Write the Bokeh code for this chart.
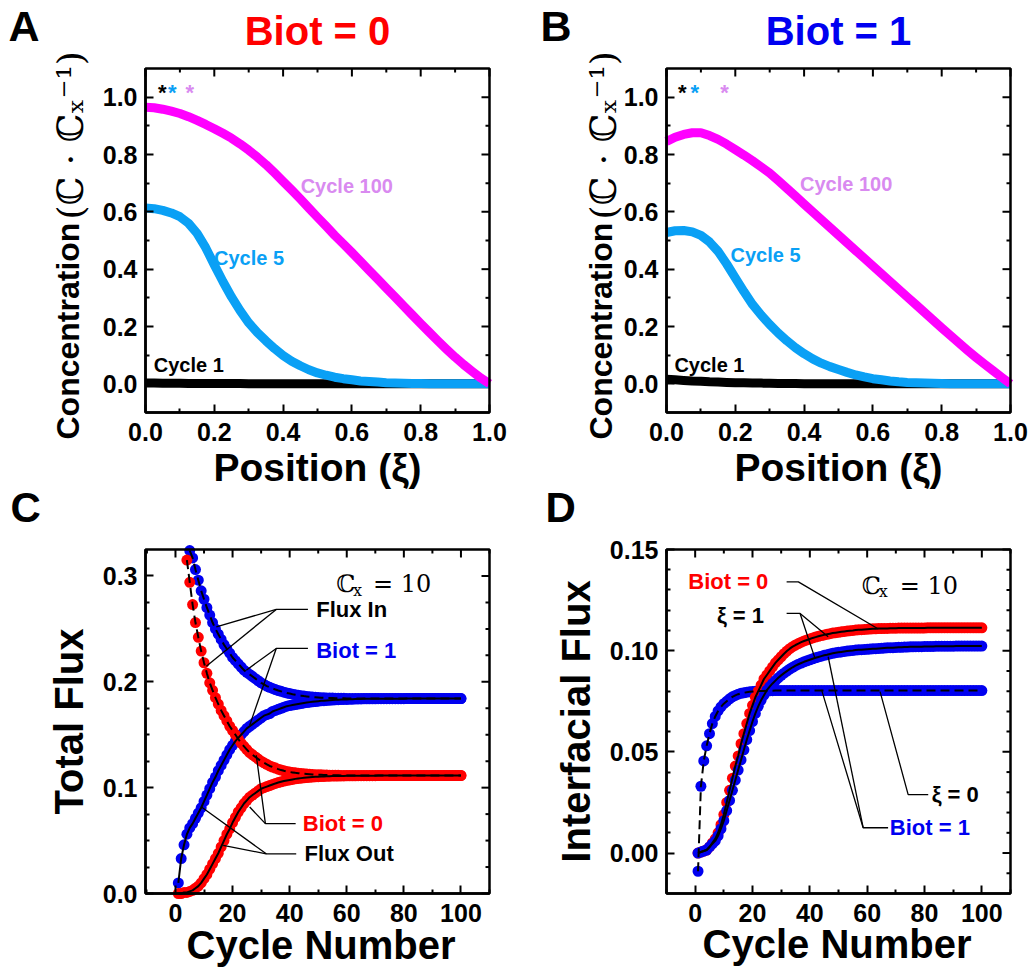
import math
from bokeh.plotting import figure
from bokeh.models import Range1d, LinearAxis, FixedTicker, PrintfTickFormatter, Label
from bokeh.layouts import gridplot
from bokeh.embed import file_html
from bokeh.resources import INLINE

# ---------------- data: panels A and B (concentration profiles) ----------------
xi = [0.000, 0.025, 0.050, 0.075, 0.100, 0.125, 0.150, 0.175, 0.200, 0.225,
      0.250, 0.275, 0.300, 0.325, 0.350, 0.375, 0.400, 0.425, 0.450, 0.475,
      0.500, 0.525, 0.550, 0.575, 0.600, 0.625, 0.650, 0.675, 0.700, 0.725,
      0.750, 0.775, 0.800, 0.825, 0.850, 0.875, 0.900, 0.925, 0.950, 0.975, 1.000]

a_cycle1 = [0.003, 0.003, 0.002, 0.002, 0.002, 0.001, 0.001, 0.001, 0.001, 0.001,
            0.001, 0.001, 0.000, 0.000, 0.000, 0.000, 0.000, 0.000, 0.000, 0.000,
            0.000, 0.000, 0.000, 0.000, 0.000, 0.000, 0.000, 0.000, 0.000, 0.000,
            0.000, 0.000, 0.000, 0.000, 0.000, 0.000, 0.000, 0.000, 0.000, 0.000, 0.000]
a_cycle5 = [0.613, 0.611, 0.605, 0.596, 0.583, 0.560, 0.525, 0.475, 0.415, 0.357,
            0.303, 0.255, 0.213, 0.179, 0.150, 0.123, 0.099, 0.079, 0.063, 0.049,
            0.038, 0.030, 0.023, 0.018, 0.014, 0.010, 0.008, 0.006, 0.004, 0.003,
            0.002, 0.0015, 0.001, 0.0005, 0.000, 0.000, 0.000, 0.000, 0.000, 0.000, 0.000]
a_cycle100 = [0.965, 0.963, 0.958, 0.951, 0.943, 0.932, 0.919, 0.905, 0.890, 0.874,
              0.857, 0.837, 0.815, 0.791, 0.765, 0.736, 0.706, 0.676, 0.645, 0.613,
              0.581, 0.550, 0.518, 0.488, 0.458, 0.427, 0.396, 0.365, 0.334, 0.303,
              0.272, 0.241, 0.210, 0.180, 0.150, 0.121, 0.093, 0.067, 0.043, 0.020, 0.000]

b_cycle1 = [0.016, 0.014, 0.012, 0.010, 0.009, 0.007, 0.006, 0.005, 0.004, 0.0035,
            0.003, 0.0025, 0.002, 0.0015, 0.001, 0.001, 0.0005, 0.000, 0.000, 0.000,
            0.000, 0.000, 0.000, 0.000, 0.000, 0.000, 0.000, 0.000, 0.000, 0.000,
            0.000, 0.000, 0.000, 0.000, 0.000, 0.000, 0.000, 0.000, 0.000, 0.000, 0.000]
b_cycle5 = [0.528, 0.534, 0.535, 0.530, 0.518, 0.495, 0.462, 0.418, 0.370, 0.322,
            0.277, 0.240, 0.207, 0.177, 0.150, 0.126, 0.105, 0.087, 0.072, 0.060,
            0.050, 0.040, 0.031, 0.024, 0.018, 0.014, 0.010, 0.007, 0.005, 0.004,
            0.003, 0.002, 0.001, 0.0005, 0.000, 0.000, 0.000, 0.000, 0.000, 0.000, 0.000]
b_cycle100 = [0.845, 0.860, 0.870, 0.876, 0.876, 0.866, 0.853, 0.836, 0.817, 0.798,
              0.778, 0.757, 0.735, 0.709, 0.682, 0.655, 0.627, 0.600, 0.573, 0.546,
              0.519, 0.492, 0.465, 0.438, 0.411, 0.384, 0.357, 0.330, 0.303, 0.276,
              0.249, 0.222, 0.195, 0.169, 0.143, 0.117, 0.092, 0.068, 0.045, 0.022, 0.000]

# ---------------- data: panels C and D (flux vs cycle) ----------------
cycles = list(range(1, 101))

c_in_biot1 = [0.389, 0.372, 0.356, 0.338, 0.324, 0.317, 0.306, 0.296, 0.286, 0.278,
              0.270, 0.263, 0.256, 0.250, 0.245, 0.240, 0.235, 0.231, 0.227, 0.223,
              0.220, 0.217, 0.214, 0.211, 0.209, 0.207, 0.205, 0.203, 0.201, 0.199,
              0.1975, 0.196, 0.1948, 0.1937, 0.1927, 0.1918, 0.191, 0.1902, 0.1895, 0.1889,
              0.1883, 0.1878, 0.1873, 0.1869, 0.1865, 0.1862, 0.1859, 0.1856, 0.1854, 0.1852,
              0.185, 0.1849, 0.1848, 0.1847, 0.1846, 0.1845, 0.1845, 0.1844, 0.1844, 0.1843,
              0.1843, 0.1843, 0.1843, 0.1843, 0.1843, 0.1843, 0.1843, 0.1843, 0.1843, 0.1843,
              0.1843, 0.1843, 0.1843, 0.1843, 0.1843, 0.1843, 0.1843, 0.1843, 0.1843, 0.1843,
              0.1842, 0.1842, 0.1842, 0.1842, 0.1842, 0.1842, 0.1842, 0.1842, 0.1842, 0.1842,
              0.1842, 0.1842, 0.1842, 0.1842, 0.1842, 0.1842, 0.1842, 0.1842, 0.1842, 0.1842]
c_out_biot1 = [0.010, 0.033, 0.046, 0.056, 0.062, 0.066, 0.071, 0.076, 0.081, 0.087,
               0.093, 0.099, 0.105, 0.110, 0.116, 0.121, 0.126, 0.131, 0.136, 0.140,
               0.144, 0.147, 0.150, 0.153, 0.156, 0.158, 0.160, 0.162, 0.164, 0.166,
               0.168, 0.169, 0.170, 0.172, 0.173, 0.174, 0.175, 0.176, 0.177, 0.1775,
               0.178, 0.1785, 0.179, 0.1795, 0.180, 0.1804, 0.1808, 0.1811, 0.1814, 0.1817,
               0.182, 0.1822, 0.1824, 0.1826, 0.1828, 0.183, 0.1831, 0.1832, 0.1833, 0.1834,
               0.1835, 0.1836, 0.1837, 0.1838, 0.1838, 0.1839, 0.1839, 0.184, 0.184, 0.184,
               0.1841, 0.1841, 0.1841, 0.1841, 0.1841, 0.1841, 0.1841, 0.1841, 0.1841, 0.1841,
               0.1842, 0.1842, 0.1842, 0.1842, 0.1842, 0.1842, 0.1842, 0.1842, 0.1842, 0.1842,
               0.1842, 0.1842, 0.1842, 0.1842, 0.1842, 0.1842, 0.1842, 0.1842, 0.1842, 0.1842]
c_in_biot0 = [0.400, 0.370, 0.341, 0.315, 0.294, 0.273, 0.256, 0.242, 0.229, 0.218,
              0.208, 0.199, 0.192, 0.185, 0.179, 0.173, 0.168, 0.163, 0.158, 0.154,
              0.150, 0.146, 0.142, 0.139, 0.136, 0.133, 0.131, 0.129, 0.127, 0.125,
              0.1235, 0.122, 0.1205, 0.1195, 0.1185, 0.1175, 0.1166, 0.1159, 0.1153, 0.1148,
              0.1144, 0.114, 0.1137, 0.1134, 0.1131, 0.1129, 0.1127, 0.1125, 0.1123, 0.1122,
              0.1121, 0.112, 0.1119, 0.1118, 0.1118, 0.1117, 0.1117, 0.1116, 0.1116, 0.1116,
              0.1115, 0.1115, 0.1115, 0.1115, 0.1115, 0.1115, 0.1115, 0.1115, 0.1115, 0.1115,
              0.1115, 0.1115, 0.1115, 0.1115, 0.1115, 0.1115, 0.1115, 0.1115, 0.1115, 0.1115,
              0.1115, 0.1115, 0.1115, 0.1115, 0.1115, 0.1115, 0.1115, 0.1115, 0.1115, 0.1115,
              0.1115, 0.1115, 0.1115, 0.1115, 0.1115, 0.1115, 0.1115, 0.1115, 0.1115, 0.1115]
c_out_biot0 = [0.000, 0.000, 0.001, 0.001, 0.002, 0.003, 0.005, 0.007, 0.010, 0.014,
               0.018, 0.023, 0.028, 0.033, 0.038, 0.044, 0.050, 0.056, 0.061, 0.067,
               0.072, 0.077, 0.081, 0.085, 0.088, 0.091, 0.093, 0.095, 0.097, 0.099,
               0.100, 0.101, 0.102, 0.103, 0.104, 0.1048, 0.1055, 0.1062, 0.1068, 0.1073,
               0.1078, 0.1083, 0.1087, 0.109, 0.1093, 0.1096, 0.1098, 0.110, 0.1102, 0.1104,
               0.1105, 0.1106, 0.1107, 0.1108, 0.1109, 0.111, 0.111, 0.1111, 0.1111, 0.1112,
               0.1112, 0.1112, 0.1112, 0.1113, 0.1113, 0.1113, 0.1113, 0.1113, 0.1113, 0.1113,
               0.1114, 0.1114, 0.1114, 0.1114, 0.1114, 0.1114, 0.1114, 0.1114, 0.1114, 0.1114,
               0.1114, 0.1114, 0.1114, 0.1114, 0.1114, 0.1114, 0.1114, 0.1114, 0.1114, 0.1114,
               0.1114, 0.1114, 0.1114, 0.1114, 0.1114, 0.1114, 0.1114, 0.1114, 0.1114, 0.1114]

d_biot0_xi1 = [0.000, 0.0005, 0.001, 0.0015, 0.003, 0.005, 0.007, 0.010, 0.014, 0.019,
               0.025, 0.031, 0.037, 0.043, 0.048, 0.054, 0.059, 0.064, 0.069, 0.073,
               0.077, 0.080, 0.083, 0.086, 0.088, 0.090, 0.092, 0.094, 0.0955, 0.097,
               0.0985, 0.0998, 0.101, 0.102, 0.1028, 0.1035, 0.1042, 0.1048, 0.1053, 0.1058,
               0.1063, 0.1067, 0.1071, 0.1075, 0.1078, 0.1081, 0.1084, 0.1087, 0.1089, 0.1091,
               0.1093, 0.1095, 0.1097, 0.1099, 0.110, 0.1102, 0.1103, 0.1104, 0.1105, 0.1106,
               0.1107, 0.1108, 0.1108, 0.1109, 0.1109, 0.111, 0.111, 0.1111, 0.1111, 0.1111,
               0.1112, 0.1112, 0.1112, 0.1112, 0.1112, 0.1112, 0.1112, 0.1112, 0.1112, 0.1112,
               0.1113, 0.1113, 0.1113, 0.1113, 0.1113, 0.1113, 0.1113, 0.1113, 0.1113, 0.1113,
               0.1113, 0.1113, 0.1113, 0.1113, 0.1113, 0.1113, 0.1113, 0.1113, 0.1113, 0.1113]
d_biot1_xi1 = [0.000, 0.0005, 0.001, 0.0015, 0.003, 0.0045, 0.006, 0.0085, 0.012, 0.016,
               0.021, 0.026, 0.031, 0.036, 0.041, 0.046, 0.051, 0.056, 0.0605, 0.065,
               0.069, 0.0725, 0.0755, 0.078, 0.0805, 0.0822, 0.0838, 0.0852, 0.0866, 0.0878,
               0.0889, 0.0899, 0.0909, 0.0918, 0.0926, 0.0933, 0.0939, 0.0945, 0.095, 0.0955,
               0.096, 0.0965, 0.0969, 0.0973, 0.0977, 0.098, 0.0984, 0.0987, 0.099, 0.0992,
               0.0994, 0.0996, 0.0998, 0.100, 0.1001, 0.1003, 0.1004, 0.1005, 0.1006, 0.1007,
               0.1008, 0.1009, 0.101, 0.1011, 0.1012, 0.1013, 0.1014, 0.1015, 0.1015, 0.1016,
               0.1017, 0.1017, 0.1018, 0.1018, 0.1019, 0.1019, 0.102, 0.102, 0.102, 0.1021,
               0.1021, 0.1021, 0.1021, 0.1022, 0.1022, 0.1022, 0.1022, 0.1022, 0.1022, 0.1022,
               0.1023, 0.1023, 0.1023, 0.1023, 0.1023, 0.1023, 0.1023, 0.1023, 0.1023, 0.1023]
d_biot1_xi0 = [-0.009, 0.033, 0.0455, 0.053, 0.059, 0.064, 0.0675, 0.0702, 0.0722, 0.0738,
               0.075, 0.0762, 0.0772, 0.0779, 0.0785, 0.0789, 0.0792, 0.0795, 0.0797, 0.0798,
               0.0799, 0.080, 0.0801, 0.0801, 0.0802, 0.0802, 0.0802, 0.0803, 0.0803, 0.0803,
               0.0803, 0.0803, 0.0803, 0.0803, 0.0803, 0.0803, 0.0803, 0.0803, 0.0803, 0.0803,
               0.0803, 0.0803, 0.0803, 0.0803, 0.0803, 0.0803, 0.0803, 0.0803, 0.0803, 0.0803,
               0.0803, 0.0803, 0.0803, 0.0803, 0.0803, 0.0803, 0.0803, 0.0803, 0.0803, 0.0803,
               0.0803, 0.0803, 0.0803, 0.0803, 0.0803, 0.0803, 0.0803, 0.0803, 0.0803, 0.0803,
               0.0803, 0.0803, 0.0803, 0.0803, 0.0803, 0.0803, 0.0803, 0.0803, 0.0803, 0.0803,
               0.0803, 0.0803, 0.0803, 0.0803, 0.0803, 0.0803, 0.0803, 0.0803, 0.0803, 0.0803,
               0.0803, 0.0803, 0.0803, 0.0803, 0.0803, 0.0803, 0.0803, 0.0803, 0.0803, 0.0803]

# annotation leader lines (data coordinates)
c_leaders_x = [[46.4, 35.3, 14.3], [35.3, 10.8],
               [46.4, 35.3, 24.8], [35.3, 26.0],
               [42.1, 31.5, 28.3], [31.5, 26.0],
               [42.3, 31.8, 9.1], [31.8, 16.7]]
c_leaders_y = [[0.2684, 0.2684, 0.252], [0.2684, 0.2148],
               [0.2315, 0.2315, 0.211], [0.2315, 0.159],
               [0.066, 0.066, 0.1306], [0.066, 0.0817],
               [0.0375, 0.0375, 0.0817], [0.0375, 0.0454]]
d_leaders_x = [[31.9, 36.0, 63.9],
               [31.9, 36.6, 46.4], [36.6, 41.8],
               [81.3, 74.3, 64.5],
               [67.3, 58.6, 44.1], [58.6, 46.4]]
d_leaders_y = [[0.134, 0.134, 0.1107],
               [0.1184, 0.1184, 0.1069], [0.1184, 0.0962],
               [0.0289, 0.0289, 0.0798],
               [0.0125, 0.0125, 0.0806], [0.0125, 0.097]]

RED = "#FF0000"
BLUE = "#0000F0"
CYC5 = "#0AA0F5"
CYC100 = "#FF00FF"
CYC100_TXT = "#D98AF0"
SANS = "Liberation Sans"
SERIF = "DejaVu Serif"
MAJ, MIN = 8, 4
TOP_H = 533            # height of the upper figure row
BOT_H = 967 - TOP_H    # height of the lower figure row


def make_axis(ticks, minor, fmt):
    ax = LinearAxis(ticker=FixedTicker(ticks=ticks, minor_ticks=minor),
                    formatter=PrintfTickFormatter(format=fmt))
    ax.axis_line_color = "black"
    ax.axis_line_width = 2.5
    ax.major_tick_in = MAJ
    ax.major_tick_out = 0
    ax.minor_tick_in = MIN
    ax.minor_tick_out = 0
    ax.major_tick_line_width = 2
    ax.minor_tick_line_width = 2
    ax.major_tick_line_color = "black"
    ax.minor_tick_line_color = "black"
    ax.major_label_text_font = SANS
    ax.major_label_text_font_style = "bold"
    ax.major_label_text_color = "black"
    ax.major_label_text_font_size = "25px"
    return ax


def panel(fw, fh, L, R, T, B, box_x, box_y, xt, xm, yt, ym, xf, yf):
    """Figure whose frame fills the canvas; the boxed plot area sits at the given margins."""
    x0, x1 = box_x
    y0, y1 = box_y
    ppx = (fw - L - R) / (x1 - x0)
    ppy = (fh - T - B) / (y1 - y0)
    p = figure(width=fw, height=fh,
               x_range=Range1d(x0 - L / ppx, x1 + R / ppx),
               y_range=Range1d(y0 - B / ppy, y1 + T / ppy),
               output_backend="svg", toolbar_location=None, title=None,
               x_axis_location=None, y_axis_location=None,
               min_border_left=0, min_border_right=0, min_border_top=0, min_border_bottom=0)
    p.grid.visible = False
    p.outline_line_color = None
    p.background_fill_color = "white"
    p.border_fill_color = "white"
    bx = make_axis(xt, xm, xf)
    bx.fixed_location = y0
    bx.bounds = (x0, x1)
    bx.major_label_standoff = 10
    p.add_layout(bx, "below")
    ly = make_axis(yt, ym, yf)
    ly.fixed_location = x0
    ly.bounds = (y0, y1)
    ly.major_label_standoff = 8
    p.add_layout(ly, "left")
    # mirrored inward ticks on top and right
    p.segment(x0=xt, y0=[y1] * len(xt), x1=xt, y1=[y1 - MAJ / ppy] * len(xt),
              line_color="black", line_width=2)
    p.segment(x0=xm, y0=[y1] * len(xm), x1=xm, y1=[y1 - MIN / ppy] * len(xm),
              line_color="black", line_width=2)
    p.segment(x0=[x1] * len(yt), y0=yt, x1=[x1 - MAJ / ppx] * len(yt), y1=yt,
              line_color="black", line_width=2)
    p.segment(x0=[x1] * len(ym), y0=ym, x1=[x1 - MIN / ppx] * len(ym), y1=ym,
              line_color="black", line_width=2)
    return p


def box(p, box_x, box_y):
    p.quad(left=[box_x[0]], right=[box_x[1]], bottom=[box_y[0]], top=[box_y[1]],
           fill_color=None, line_color="black", line_width=2.5)


def put(p, x, y, text, size, color="black", font=SANS, style="bold",
        align="left", baseline="middle", angle=0.0, xo=0, yo=0):
    p.add_layout(Label(x=x, y=y, text=text, text_font=font, text_font_size=f"{size}px",
                       text_font_style=style, text_color=color, text_align=align,
                       text_baseline=baseline, angle=angle, x_offset=xo, y_offset=yo))


def cx10(p, x_c, x_x, x_eq, y):
    put(p, x_c, y, "ℂ", 24, font=SERIF, style="normal", baseline="alphabetic", yo=8)
    put(p, x_x, y, "x", 16, font=SERIF, style="normal", baseline="alphabetic", yo=2)
    put(p, x_eq, y, "= 10", 24, font=SERIF, style="normal", baseline="alphabetic", yo=8)


def inside(xs, ys, top):
    pts = [(a, b) for a, b in zip(xs, ys) if b <= top]
    return [a for a, _ in pts], [b for _, b in pts]


conc_xt = [0.0, 0.2, 0.4, 0.6, 0.8, 1.0]
conc_xm = [0.1, 0.3, 0.5, 0.7, 0.9]
conc_yt = [0.0, 0.2, 0.4, 0.6, 0.8, 1.0]
conc_ym = [0.1, 0.3, 0.5, 0.7, 0.9]


def conc_panel(fw, R, c1, c5, c100, letter, letter_xo, title, title_color,
               ylab_xo, lab100, lab5, lab1, stars, lower_letter, lower_xo):
    bx_, by_ = (0.0, 1.0), (-0.1, 1.1)
    p = panel(fw, TOP_H, 145, R, 68, TOP_H - 68 - 344, bx_, by_,
              conc_xt, conc_xm, conc_yt, conc_ym, "%.1f", "%.1f")
    p.line(xi, c1, line_width=9, line_color="black", line_join="round")
    p.line(xi, c5, line_width=9, line_color=CYC5, line_join="round")
    p.line(xi, c100, line_width=9, line_color=CYC100, line_join="round")
    box(p, bx_, by_)
    put(p, lab100[0], lab100[1], "Cycle 100", 20, color=CYC100_TXT)
    put(p, lab5[0], lab5[1], "Cycle 5", 20, color=CYC5)
    put(p, lab1[0], lab1[1], "Cycle 1", 20, color="black")
    for sx, col in zip(stars, ["black", CYC5, CYC100_TXT]):
        put(p, sx, 1.017, "*", 22, color=col, align="center")
    put(p, 0.0, 1.1, letter, 43, xo=letter_xo, yo=43)
    put(p, 0.5, 1.1, title, 40, color=title_color, align="center", yo=38)
    put(p, 0.0, -0.1, "Concentration", 32, angle=math.pi / 2, xo=ylab_xo, yo=-27)
    put(p, 0.0, -0.1, "(ℂ · ℂₓ⁻¹)", 36, font=SERIF, style="normal",
        angle=math.pi / 2, xo=ylab_xo + 3, yo=193)
    put(p, 0.5, -0.1, "Position (ξ)", 39, align="center", yo=-55)
    # letter of the panel below (sits in the gap between the rows)
    put(p, 0.0, -0.1, lower_letter, 42, xo=lower_xo, yo=-95)
    return p


pa = conc_panel(521, 32, a_cycle1, a_cycle5, a_cycle100, "A", -137, "Biot = 0", RED, -78,
                (0.451, 0.689), (0.199, 0.44), (0.024, 0.065), [0.049, 0.078, 0.129],
                "C", -135)
pb = conc_panel(511, 22, b_cycle1, b_cycle5, b_cycle100, "B", -126, "Biot = 1", BLUE, -66,
                (0.388, 0.697), (0.186, 0.449), (0.023, 0.065), [0.046, 0.082, 0.169],
                "D", -121)

cyc_xt = [0, 20, 40, 60, 80, 100]
cyc_xm = [-10, 10, 30, 50, 70, 90, 110]
BOT_T = 549 - TOP_H

# ---------------- panel C ----------------
C_BX, C_BY = (-10.5, 110), (0.0, 0.325)
pc = panel(521, BOT_H, 145, 32, BOT_T, BOT_H - BOT_T - 344, C_BX, C_BY,
           cyc_xt, cyc_xm, [0.0, 0.1, 0.2, 0.3],
           [0.025, 0.05, 0.075, 0.125, 0.15, 0.175, 0.225, 0.25, 0.275], "%d", "%.1f")
for ys, col in [(c_in_biot1, BLUE), (c_out_biot1, BLUE), (c_in_biot0, RED), (c_out_biot0, RED)]:
    xs_, ys_ = inside(cycles, ys, C_BY[1])
    pc.scatter(xs_, ys_, marker="circle", size=11, fill_color=col, line_color=None)
for ys, dash in [(c_in_biot1, "9 5"), (c_in_biot0, "9 5"), (c_out_biot1, "solid"), (c_out_biot0, "solid")]:
    xs_, ys_ = inside(cycles, ys, C_BY[1])
    pc.line(xs_, ys_, line_color="black", line_width=2, line_dash=dash)
box(pc, C_BX, C_BY)
pc.multi_line(c_leaders_x, c_leaders_y, line_color="black", line_width=1.3)
put(pc, 49.3, 0.2687, "Flux In", 22)
put(pc, 49.3, 0.2299, "Biot = 1", 22, color=BLUE)
put(pc, 44.6, 0.0662, "Biot = 0", 22, color=RED)
put(pc, 45.2, 0.0378, "Flux Out", 22)
cx10(pc, 56.3, 62.2, 69.2, 0.2848)
put(pc, C_BX[0], 0.1625, "Total Flux", 40, angle=math.pi / 2, align="center", xo=-77)
put(pc, 51.0, C_BY[0], "Cycle Number", 40, align="center", yo=-51)

# ---------------- panel D ----------------
D_BX, D_BY = (-10, 110), (-0.02, 0.15)
pd = panel(511, BOT_H, 145, 22, BOT_T, BOT_H - BOT_T - 344, D_BX, D_BY,
           cyc_xt, cyc_xm, [0.0, 0.05, 0.10, 0.15],
           [-0.01, 0.01, 0.02, 0.03, 0.04, 0.06, 0.07, 0.08, 0.09, 0.11, 0.12, 0.13, 0.14],
           "%d", "%.2f")
pd.scatter(cycles, d_biot1_xi0, marker="circle", size=11, fill_color=BLUE, line_color=None)
pd.scatter(cycles, d_biot0_xi1, marker="circle", size=11, fill_color=RED, line_color=None)
pd.scatter(cycles, d_biot1_xi1, marker="circle", size=11, fill_color=BLUE, line_color=None)
pd.line(cycles, d_biot1_xi0, line_color="black", line_width=2, line_dash="9 5")
pd.line(cycles, d_biot0_xi1, line_color="black", line_width=2)
pd.line(cycles, d_biot1_xi1, line_color="black", line_width=2)
box(pd, D_BX, D_BY)
pd.multi_line(d_leaders_x, d_leaders_y, line_color="black", line_width=1.3)
put(pd, -2.4, 0.134, "Biot = 0", 22, color=RED)
put(pd, 7.6, 0.1176, "ξ = 1", 22)
put(pd, 82.5, 0.0289, "ξ = 0", 22)
put(pd, 67.9, 0.0125, "Biot = 1", 22, color=BLUE)
cx10(pd, 58.1, 64.0, 71.4, 0.1282)
put(pd, D_BX[0], 0.065, "Interfacial Flux", 40, angle=math.pi / 2, align="center", xo=-91)
put(pd, 49.5, D_BY[0], "Cycle Number", 40, align="center", yo=-50)

grid = gridplot([[pa, pb], [pc, pd]], toolbar_location=None)

open("out.html", "w").write(file_html(grid, INLINE))
